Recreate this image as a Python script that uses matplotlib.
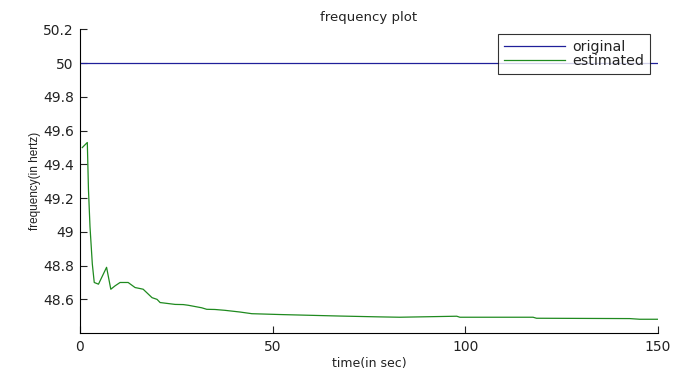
import matplotlib
matplotlib.use("Agg")
import matplotlib.pyplot as plt

plt.rcParams["font.family"] = ["DejaVu Sans"]

# time [s] and estimated frequency [Hz]
t_est = [0.6, 1.9, 2.2, 2.6, 3.2, 3.7, 4.8, 6.9, 8.0, 9.1, 10.4, 12.5, 14.3,
         15.6, 16.4, 18.7, 20.0, 20.8, 21.2, 24.7, 26.8, 28.1, 31.6, 32.9,
         35.0, 37.6, 41.5, 44.6, 51.9, 67.5, 77.9, 83.0, 97.8, 98.6, 117.6,
         118.5, 142.7, 145.3, 150.0]
f_est = [49.50, 49.53, 49.25, 49.03, 48.81, 48.70, 48.69, 48.79, 48.66,
         48.68, 48.70, 48.70, 48.67, 48.664, 48.66, 48.61, 48.60, 48.581,
         48.58, 48.57, 48.569, 48.565, 48.55, 48.541, 48.54, 48.535, 48.525,
         48.515, 48.510, 48.501, 48.496, 48.494, 48.500, 48.494, 48.494,
         48.488, 48.486, 48.482, 48.482]
t_orig = [0, 150]
f_orig = [50, 50]

fig = plt.figure(figsize=(6.86, 3.73), dpi=100)
ax = fig.add_axes([0.1166, 0.107, 0.8424, 0.814])

ax.plot(t_orig, f_orig, color="#20209a", lw=0.9, label="original")
ax.plot(t_est, f_est, color="#1f8a1f", lw=0.9, label="estimated")

ax.set_xlim(0, 150)
ax.set_ylim(48.4, 50.2)
ax.set_xticks([0, 50, 100, 150])
ax.set_yticks([48.6, 48.8, 49, 49.2, 49.4, 49.6, 49.8, 50, 50.2])
ax.set_yticklabels(["48.6", "48.8", "49", "49.2", "49.4", "49.6", "49.8", "50", "50.2"])
ax.tick_params(direction="in", length=5, width=0.8, labelsize=10, colors="#222222")
ax.tick_params(axis="y", pad=4.5)
ax.tick_params(axis="x", pad=5)
for side in ["top", "right"]:
    ax.spines[side].set_visible(False)

ax.set_title("frequency plot", fontsize=9.5, pad=6, color="#222222")
ax.set_xlabel("time(in sec)", fontsize=9, labelpad=2, color="#222222")
ax.set_ylabel("frequency(in hertz)", fontsize=8.5, labelpad=1, color="#222222",
              family=["Liberation Sans", "DejaVu Sans"])

leg = ax.legend(loc="upper right", bbox_to_anchor=(0.986, 0.985), fontsize=10.3,
                frameon=True, fancybox=False, handlelength=4.3,
                borderpad=0.42, labelspacing=0.0, handletextpad=0.45,
                borderaxespad=0.0, labelcolor="#222222")
leg.get_frame().set_edgecolor("black")
leg.get_frame().set_linewidth(0.8)

fig.savefig("out.png", dpi=100)
